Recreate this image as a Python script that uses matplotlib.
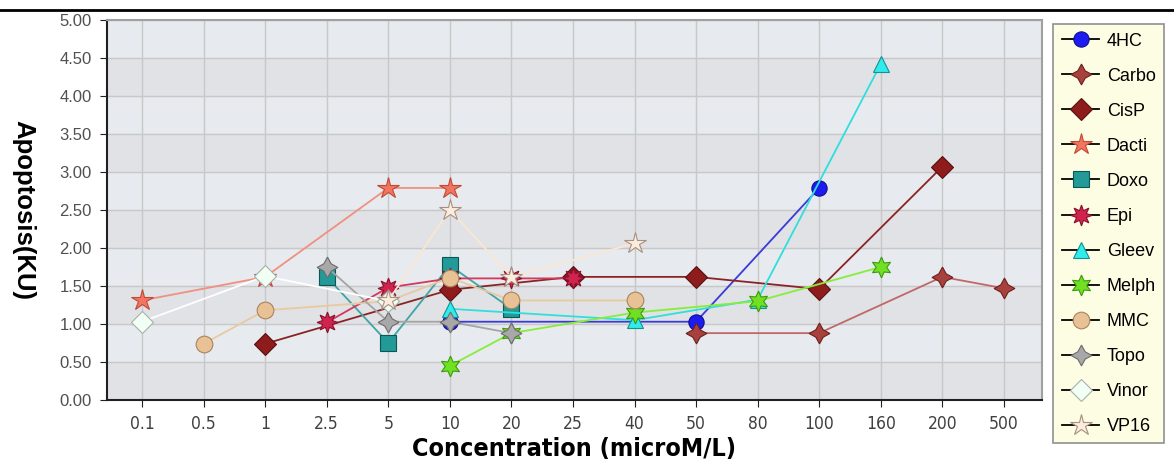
import numpy as np
import matplotlib
matplotlib.use("Agg")
import matplotlib.pyplot as plt
from matplotlib.lines import Line2D

# concentrations (categorical x axis)
concentrations = ["0.1", "0.5", "1", "2.5", "5", "10", "20", "25", "40", "50",
                  "80", "100", "160", "200", "500"]

# apoptosis values per drug: (concentration label, value)
hc4_x = ["10", "50", "100"]
hc4_y = [1.03, 1.03, 2.79]
carbo_x = ["50", "100", "200", "500"]
carbo_y = [0.88, 0.88, 1.62, 1.47]
cisp_x = ["1", "10", "25", "50", "100", "200"]
cisp_y = [0.74, 1.45, 1.62, 1.62, 1.46, 3.07]
dacti_x = ["0.1", "1", "5", "10"]
dacti_y = [1.31, 1.62, 2.79, 2.79]
doxo_x = ["2.5", "5", "10", "20"]
doxo_y = [1.62, 0.75, 1.77, 1.20]
epi_x = ["2.5", "5", "10", "20", "25"]
epi_y = [1.02, 1.48, 1.60, 1.60, 1.60]
gleev_x = ["10", "40", "80", "160"]
gleev_y = [1.20, 1.05, 1.32, 4.42]
melph_x = ["10", "20", "40", "80", "160"]
melph_y = [0.45, 0.88, 1.15, 1.30, 1.75]
mmc_x = ["0.5", "1", "5", "10", "20", "40"]
mmc_y = [0.74, 1.18, 1.30, 1.61, 1.31, 1.31]
topo_x = ["2.5", "5", "10", "20"]
topo_y = [1.75, 1.03, 1.03, 0.88]
vinor_x = ["0.1", "1", "5"]
vinor_y = [1.03, 1.63, 1.30]
vp16_x = ["5", "10", "20", "40"]
vp16_y = [1.31, 2.50, 1.62, 2.06]

series = [
    ("4HC", hc4_x, hc4_y, "o", 11, "#1c1cf0", "#10108a", "#3a3ad8"),
    ("Carbo", carbo_x, carbo_y, (4, 1, 0), 15, "#a8403c", "#6a2020", "#c06868"),
    ("CisP", cisp_x, cisp_y, "D", 11, "#8e1c1c", "#5a1010", "#8a2424"),
    ("Dacti", dacti_x, dacti_y, "*", 16, "#f27560", "#c04a38", "#f09080"),
    ("Doxo", doxo_x, doxo_y, "s", 11, "#229a98", "#0c5656", "#40a4a4"),
    ("Epi", epi_x, epi_y, (8, 1, 0), 15, "#d0234e", "#8a1030", "#d4385c"),
    ("Gleev", gleev_x, gleev_y, "^", 12, "#30ecec", "#169090", "#30dede"),
    ("Melph", melph_x, melph_y, (6, 1, 0), 15, "#72e022", "#3c9a10", "#86ee3a"),
    ("MMC", mmc_x, mmc_y, "o", 12, "#e8c294", "#a88460", "#e8c9a0"),
    ("Topo", topo_x, topo_y, (4, 1, 0), 15, "#a8a8a8", "#6c6c6c", "#a4a4a4"),
    ("Vinor", vinor_x, vinor_y, "D", 11, "#f2fff4", "#a8b0a8", "#ffffff"),
    ("VP16", vp16_x, vp16_y, "*", 16, "#fcece0", "#a89080", "#fbe6d2"),
]

fig = plt.figure(figsize=(11.74, 4.68), dpi=100)
ax = fig.add_axes([107 / 1174, 1 - 400 / 468, (1042 - 107) / 1174, 380 / 468])

# alternating background bands
ax.set_facecolor("#e7eaee")
for i, lo in enumerate(np.arange(0, 5, 0.5)):
    if i % 2 == 0:
        ax.axhspan(lo, lo + 0.5, color="#e0e2e5", zorder=0)

pos = {c: i for i, c in enumerate(concentrations)}
handles = []
for name, xs, ys, mk, ms, fc, ec, lc in series:
    xi = [pos[x] for x in xs]
    ax.plot(xi, ys, color=lc, lw=1.3, marker=mk, markersize=ms,
            markerfacecolor=fc, markeredgecolor=ec, markeredgewidth=0.8,
            zorder=3)
    handles.append(Line2D([], [], color="black", lw=1.3, marker=mk,
                          markersize=ms, markerfacecolor=fc,
                          markeredgecolor=ec, markeredgewidth=0.8, label=name))

ax.set_xlim(-0.57, 14.62)
ax.set_ylim(0, 5)
ax.set_xticks(range(len(concentrations)))
ax.set_xticklabels(concentrations, family=["DejaVu Sans"], fontstretch="condensed",
                   fontsize=12.5, color="#404040")
ax.set_yticks(np.arange(0, 5.01, 0.5))
ax.set_yticklabels(["%.2f" % v for v in np.arange(0, 5.01, 0.5)],
                   family=["Liberation Sans", "DejaVu Sans"], fontsize=12,
                   color="#505050")
ax.grid(True, color="#c8c8c8", lw=1, zorder=1)
ax.set_axisbelow(True)
ax.tick_params(axis="both", direction="out", length=5, color="#202020", pad=6)
for s in ["top", "right"]:
    ax.spines[s].set_color("#a0a0a0")
    ax.spines[s].set_linewidth(1.5)
for s in ["left", "bottom"]:
    ax.spines[s].set_color("#202020")
    ax.spines[s].set_linewidth(1.5)

ax.set_xlabel("Concentration (microM/L)", family=["DejaVu Sans"], fontstretch="condensed",
              fontweight="bold", fontsize=18, labelpad=3)
ax.set_ylabel("Apoptosis(KU)", family=["Liberation Sans", "DejaVu Sans"],
              fontweight="bold", fontsize=18.5, rotation=270, labelpad=18)
ax.yaxis.set_label_coords(-0.102, 0.5)

# black rule at the top
fig.add_artist(Line2D([0, 1], [1 - 10 / 468, 1 - 10 / 468], color="black",
                      lw=2, transform=fig.transFigure))

leg = fig.legend(handles=handles, loc="upper left",
                 bbox_to_anchor=(1048 / 1174, 1 - 19 / 468),
                 prop={"family": ["Liberation Sans", "DejaVu Sans"], "size": 13},
                 labelspacing=1.0, handlelength=2.1, handletextpad=0.4,
                 borderpad=0.45, borderaxespad=0.3, fancybox=False, framealpha=1)
leg.get_frame().set_facecolor("#fdfde4")
leg.get_frame().set_edgecolor("#909090")
leg.get_frame().set_linewidth(1.2)

fig.savefig("out.png", dpi=100)
